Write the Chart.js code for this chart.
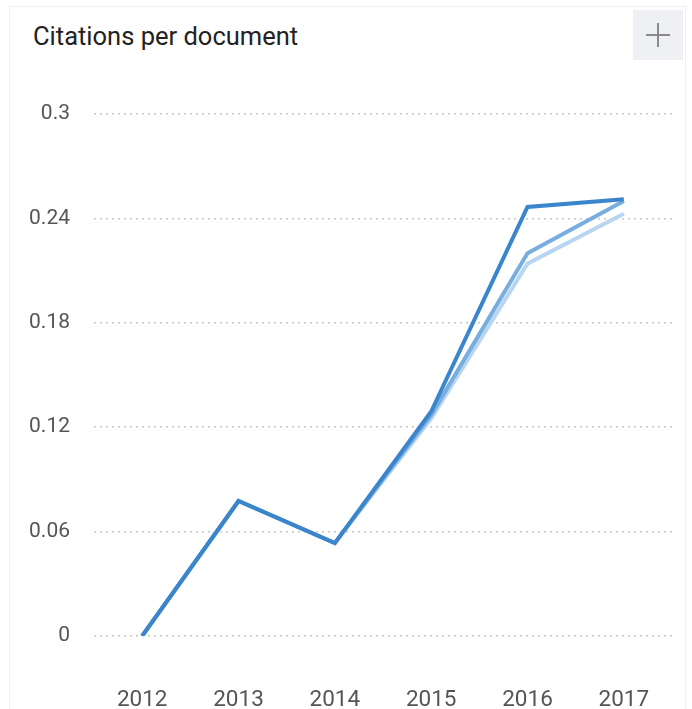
<!DOCTYPE html>
<html>
<head>
<meta charset="utf-8">
<script src="https://cdn.jsdelivr.net/npm/chart.js@4"></script>
<style>
  html, body { margin: 0; padding: 0; background: #fff; }
  body { width: 692px; height: 709px; position: relative; overflow: hidden; font-family: Roboto, sans-serif; }
  .card { position: absolute; left: 9px; top: 6px; width: 677px; height: 720px; border: 1px solid #f0f0f0; box-sizing: border-box; }
  .title { position: absolute; left: 33px; top: 21px; font-size: 25.5px; line-height: 30px; color: #222; }
  .plus { position: absolute; left: 633px; top: 10px; width: 50px; height: 50px; background: #eff0f4; }
  .plus::before, .plus::after { content: ''; position: absolute; background: #8a8a8a; }
  .plus::before { left: 13px; top: 24px; width: 24px; height: 2px; }
  .plus::after { left: 24px; top: 13px; width: 2px; height: 24px; }
  #chartWrap { position: absolute; left: 0; top: 0; width: 692px; height: 709px; }
</style>
</head>
<body>
<div class="card"></div>
<div class="title">Citations per document</div>
<div class="plus"></div>
<div id="chartWrap"><canvas id="citChart"></canvas></div>
<script>
// values
const years = ['2012', '2013', '2014', '2015', '2016', '2017'];
const seriesDark = [0, 0.0776, 0.0534, 0.129, 0.2466, 0.251];
const seriesMid = [0, 0.0776, 0.0534, 0.127, 0.220, 0.250];
const seriesLight = [0, 0.0776, 0.0534, 0.125, 0.214, 0.2427];
const yTicks = [0, 0.06, 0.12, 0.18, 0.24, 0.3];

function lineSet(data, color, order) {
    return {
        data: data,
        borderColor: color,
        backgroundColor: color,
        borderWidth: 4,
        tension: 0,
        pointRadius: 0,
        pointHoverRadius: 0,
        fill: false,
        order: order
    };
}

new Chart(document.getElementById('citChart'), {
    type: 'line',
    data: {
        labels: years,
        datasets: [
            lineSet(seriesDark, '#3a85cb', 0),
            lineSet(seriesMid, '#78ade0', 1),
            lineSet(seriesLight, '#b9d6f1', 2)
        ]
    },
    options: {
        responsive: true,
        maintainAspectRatio: false,
        animation: false,
        layout: { padding: { top: 114, right: 20, left: 0, bottom: 0 } },
        plugins: {
            legend: { display: false },
            tooltip: { enabled: false }
        },
        scales: {
            x: {
                offset: true,
                grid: { display: false, drawTicks: false },
                border: { display: false },
                ticks: {
                    color: '#555',
                    font: { family: 'Roboto', size: 22.5 },
                    padding: 51,
                    maxRotation: 0
                },
                afterFit: (scale) => {
                    scale.height = 73;
                    // keep the plot edges where the gridlines sit
                    scale.paddingLeft = 0;
                    scale.paddingRight = 0;
                }
            },
            y: {
                min: 0,
                max: 0.3,
                grid: {
                    color: '#c6c6c6',
                    lineWidth: 1.5,
                    drawTicks: false
                },
                border: { display: false, dash: [2, 4] },
                ticks: {
                    color: '#555',
                    font: { family: 'Roboto', size: 21 },
                    padding: 24,
                    callback: (v) => String(v)
                },
                afterBuildTicks: (scale) => {
                    scale.ticks = yTicks.map(v => ({ value: v }));
                },
                afterFit: (scale) => { scale.width = 94; }
            }
        }
    }
});
</script>
</body>
</html>
